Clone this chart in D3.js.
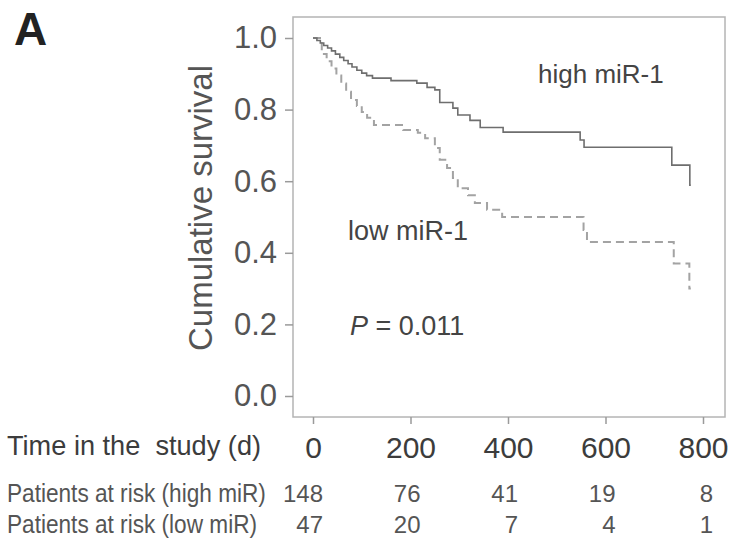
<!DOCTYPE html>
<html>
<head>
<meta charset="utf-8">
<script src="https://cdn.jsdelivr.net/npm/d3@7"></script>
<style>
  body { margin: 0; background: #fff; }
  text { font-family: Arial, "Liberation Sans", sans-serif; }
</style>
</head>
<body>
<div id="km-chart"></div>
<script>
const WIDTH = 731;
const HEIGHT = 539;

// DATA
const highTime = [0, 8, 15, 22, 30, 38, 46, 55, 63, 72, 80, 90, 100, 110, 122, 160, 213, 234, 250, 260, 287, 297, 322, 343, 390, 548, 556, 736, 773, 775];
const highSurv = [1.0, 0.993, 0.986, 0.979, 0.972, 0.964, 0.955, 0.946, 0.937, 0.928, 0.919, 0.91, 0.902, 0.895, 0.888, 0.881, 0.874, 0.862, 0.855, 0.82, 0.804, 0.785, 0.77, 0.75, 0.737, 0.715, 0.695, 0.645, 0.589, 0.589];
const lowTime = [0, 18, 28, 38, 48, 58, 68, 78, 90, 100, 111, 125, 185, 215, 230, 250, 260, 275, 287, 297, 318, 332, 357, 388, 555, 562, 740, 772, 775];
const lowSurv = [1.0, 0.955, 0.935, 0.915, 0.895, 0.873, 0.85, 0.827, 0.81, 0.793, 0.777, 0.757, 0.743, 0.735, 0.72, 0.693, 0.66, 0.637, 0.609, 0.58, 0.561, 0.539, 0.52, 0.5, 0.464, 0.43, 0.37, 0.3, 0.3];

const xTicks = [0, 200, 400, 600, 800];
const yTicks = [0, 0.2, 0.4, 0.6, 0.8, 1.0];
const riskHigh = [148, 76, 41, 19, 8];
const riskLow = [47, 20, 7, 4, 1];
const riskLabels = ["Patients at risk (high miR)", "Patients at risk (low miR)"];

const svg = d3
  .select("#km-chart")
  .append("svg")
  .attr("width", WIDTH)
  .attr("height", HEIGHT);

// SCALES
const x = d3.scaleLinear().domain([0, 800]).range([313, 703]);
const y = d3.scaleLinear().domain([0, 1]).range([396, 38]);

// BOX
svg
  .append("rect")
  .attr("x", 293)
  .attr("y", 17)
  .attr("width", 725 - 293)
  .attr("height", 417 - 17)
  .attr("fill", "none")
  .attr("stroke", "#b4b4b4")
  .attr("stroke-width", 1.5);

// AXIS
svg
  .append("g")
  .attr("transform", "translate(293, 0)")
  .call(d3.axisLeft(y).tickValues(yTicks).tickFormat(d3.format(".1f")).tickSize(8).tickPadding(8))
  .call((g) => {
    g.select(".domain").remove();
    g.selectAll(".tick line").attr("stroke", "#9a9a9a").attr("stroke-width", 1.5);
    g.selectAll(".tick text")
      .attr("font-size", "31px")
      .attr("font-family", "Arial, 'Liberation Sans', sans-serif")
      .attr("fill", "#555");
  });

svg
  .append("g")
  .attr("transform", "translate(0, 417)")
  .call(d3.axisBottom(x).tickValues(xTicks).tickSize(7).tickPadding(13))
  .call((g) => {
    g.select(".domain").remove();
    g.selectAll(".tick line").attr("stroke", "#9a9a9a").attr("stroke-width", 1.5);
    g.selectAll(".tick text")
      .attr("font-size", "30px")
      .attr("font-family", "Arial, 'Liberation Sans', sans-serif")
      .attr("fill", "#3c3c3c");
  });

// LABELS
svg
  .append("text")
  .attr("x", 14)
  .attr("y", 45)
  .attr("font-size", "46px")
  .attr("font-weight", "bold")
  .style("fill", "#222")
  .text("A");

svg
  .append("text")
  .attr("transform", "translate(212, 208) rotate(-90)")
  .attr("text-anchor", "middle")
  .attr("font-size", "33px")
  .style("fill", "#555")
  .text("Cumulative survival");

// condensed row labels, like the original figure
svg
  .append("text")
  .attr("transform", "translate(7, 455) scale(0.97, 1)")
  .attr("font-size", "28px")
  .style("white-space", "pre")
  .style("fill", "#3c3c3c")
  .text("Time in the  study (d)");

svg
  .append("text")
  .attr("x", 538)
  .attr("y", 83)
  .attr("font-size", "26px")
  .style("fill", "#444")
  .text("high miR-1");

svg
  .append("text")
  .attr("x", 348)
  .attr("y", 240)
  .attr("font-size", "27px")
  .style("fill", "#444")
  .text("low miR-1");

const pText = svg
  .append("text")
  .attr("x", 350)
  .attr("y", 335)
  .attr("font-size", "27px")
  .style("fill", "#444");
pText.append("tspan").attr("font-style", "italic").text("P");
pText.append("tspan").text(" = 0.011");

// RISK TABLE
[riskHigh, riskLow].forEach((row, i) => {
  const baseY = 502 + i * 31;
  svg
    .append("text")
    .attr("transform", `translate(7, ${baseY}) scale(0.87, 1)`)
    .attr("font-size", "26px")
    .style("fill", "#555")
    .text(riskLabels[i]);
  svg
    .append("g")
    .selectAll("text")
    .data(row)
    .join("text")
    .attr("x", (d, j) => x(xTicks[j]) + 10)
    .attr("y", baseY)
    .attr("text-anchor", "end")
    .attr("font-size", "24px")
    .style("fill", "#555")
    .text((d) => d);
});

// CURVES
const line = d3
  .line()
  .x((d) => x(d[0]))
  .y((d) => y(d[1]))
  .curve(d3.curveStepAfter);

svg
  .append("path")
  .datum(lowTime.map((t, i) => [t, lowSurv[i]]))
  .attr("d", line)
  .attr("fill", "none")
  .attr("stroke", "#a3a3a3")
  .attr("stroke-width", 2)
  .attr("stroke-dasharray", "8,5");

svg
  .append("path")
  .datum(highTime.map((t, i) => [t, highSurv[i]]))
  .attr("d", line)
  .attr("fill", "none")
  .attr("stroke", "#6e6e6e")
  .attr("stroke-width", 1.6);
</script>
</body>
</html>
